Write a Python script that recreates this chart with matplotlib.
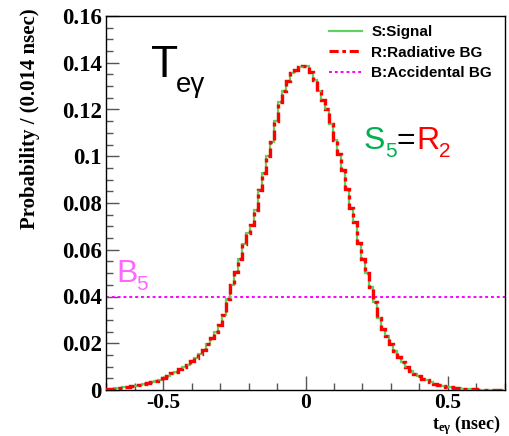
import numpy as np
import matplotlib.pyplot as plt
from matplotlib.lines import Line2D

# T_eγ probability per 0.014 nsec bin, 100 bins from -0.7 to 0.7 nsec
t_lo, t_hi, n_bins = -0.7, 0.7, 100
teg_pdf = [
    0.0004, 0.0006, 0.0008, 0.0009, 0.0011, 0.0013, 0.0015, 0.0018, 0.0021, 0.0025,
    0.0028, 0.0033, 0.0038, 0.0044, 0.0050, 0.0060, 0.0071, 0.0079, 0.0088, 0.0097,
    0.0108, 0.0122, 0.0137, 0.0154, 0.0172, 0.0197, 0.0222, 0.0250, 0.0280, 0.0322,
    0.0390, 0.0450, 0.0505, 0.0560, 0.0625, 0.0670, 0.0705, 0.0770, 0.0855, 0.0930,
    0.1000, 0.1060, 0.1150, 0.1230, 0.1280, 0.1320, 0.1355, 0.1370, 0.1380, 0.1385,
    0.1384, 0.1360, 0.1325, 0.1280, 0.1240, 0.1200, 0.1140, 0.1070, 0.1010, 0.0940,
    0.0860, 0.0780, 0.0720, 0.0630, 0.0560, 0.0500, 0.0440, 0.0375, 0.0310, 0.0260,
    0.0230, 0.0195, 0.0165, 0.0140, 0.0120, 0.0100, 0.0083, 0.0070, 0.0059, 0.0049,
    0.0041, 0.0033, 0.0026, 0.0021, 0.0017, 0.0014, 0.0011, 0.0009, 0.0007, 0.0005,
    0.0004, 0.0003, 0.0003, 0.0002, 0.0002, 0.0001, 0.0001, 0.0001, 0.0001, 0.0001,
]
signal = teg_pdf
radiative = teg_pdf
accidental = 0.04

legend_labels = ["S:Signal", "R:Radiative BG", "B:Accidental BG"]

GREEN = "#5fd35f"
RED = "#ff0000"
MAGENTA = "#ff00ff"
DASHDOT = (0, (3, 1.2, 1.2, 1.2))

plt.rcParams["mathtext.fontset"] = "custom"
plt.rcParams["mathtext.rm"] = "Liberation Serif"
plt.rcParams["mathtext.bf"] = "Liberation Serif:bold"
plt.rcParams["mathtext.it"] = "Liberation Serif:italic"

W, H = 510, 436
fig = plt.figure(figsize=(W / 100, H / 100), dpi=100)
ax = fig.add_axes([106 / W, 1 - 390 / H, (505 - 106) / W, (390 - 16) / H])

edges = np.linspace(t_lo, t_hi, n_bins + 1)
ax.stairs(signal, edges, color=GREEN, lw=1.6, zorder=3)
ax.stairs(radiative, edges, color=RED, lw=2.4, linestyle=DASHDOT, zorder=4)
ax.axhline(accidental, color=MAGENTA, lw=1.4, linestyle=(0, (1.5, 1.5)), zorder=2)

ax.set_xlim(t_lo, t_hi)
ax.set_ylim(0, 0.16)
ax.set_xticks([-0.5, 0, 0.5])
ax.set_xticklabels(["-0.5", "0", "0.5"])
ax.set_xticks(np.arange(-0.7, 0.71, 0.1), minor=True)
ax.set_yticks(np.arange(0, 0.161, 0.02))
ax.set_yticklabels(["0", "0.02", "0.04", "0.06", "0.08", "0.1", "0.12", "0.14", "0.16"])
ax.set_yticks(np.arange(0, 0.161, 0.005), minor=True)

ax.tick_params(which="both", direction="in", color="#555555", width=1,
               top=False, right=False)
ax.tick_params(axis="y", which="major", length=9, pad=3)
ax.tick_params(axis="y", which="minor", length=5)
ax.tick_params(axis="x", which="major", length=10, pad=2)
ax.tick_params(axis="x", which="minor", length=5)
for lbl in ax.get_yticklabels():
    lbl.set_fontfamily("Liberation Serif")
    lbl.set_fontweight("bold")
    lbl.set_fontsize(16.5)
for lbl in ax.get_xticklabels():
    lbl.set_fontfamily("Liberation Serif")
    lbl.set_fontweight("bold")
    lbl.set_fontsize(15.5)
for sp in ax.spines.values():
    sp.set_linewidth(1)

ax.set_ylabel("Probability / (0.014 nsec)", fontfamily="Liberation Serif",
              fontweight="bold", fontsize=15, loc="top")
ax.yaxis.set_label_coords(-0.165, 1.02)
ax.set_xlabel(r"$\mathbf{t_{e\gamma}}$ (nsec)", fontfamily="Liberation Serif",
              fontweight="bold", fontsize=13, loc="right")
ax.xaxis.set_label_coords(0.99, -0.062)

handles = [
    Line2D([], [], color=GREEN, lw=1.6),
    Line2D([], [], color=RED, lw=2.2, linestyle=DASHDOT),
    Line2D([], [], color=MAGENTA, lw=1.4, linestyle=(0, (1.5, 1.5))),
]
ax.legend(handles, legend_labels, loc="upper left", bbox_to_anchor=(0.56, 0.975),
          frameon=False, handlelength=2.15, handletextpad=0.6, labelspacing=0.42,
          borderaxespad=0, borderpad=0,
          prop={"family": "Liberation Sans", "weight": "bold", "size": 11})


def ftext(x, y, s, **kw):
    fig.text(x / W, 1 - y / H, s, fontfamily="Liberation Sans", **kw)


ftext(151, 77, "T", fontsize=32, color="black", va="baseline")
ftext(176, 92, "eγ", fontsize=20, color="black", va="baseline")

ftext(364, 149, "S", fontsize=23, color="#00b050", va="baseline")
ftext(385, 157, "5", fontsize=15, color="#00b050", va="baseline")
ftext(397, 149, "=", fontsize=23, color="black", va="baseline")
ftext(416, 149, "R", fontsize=23, color=RED, va="baseline")
ftext(439, 157, "2", fontsize=15, color=RED, va="baseline")

ftext(116, 282, "B", fontsize=23, color="#ff66ff", va="baseline")
ftext(136, 290, "5", fontsize=15, color="#ff66ff", va="baseline")

fig.savefig("out.png", dpi=100)
